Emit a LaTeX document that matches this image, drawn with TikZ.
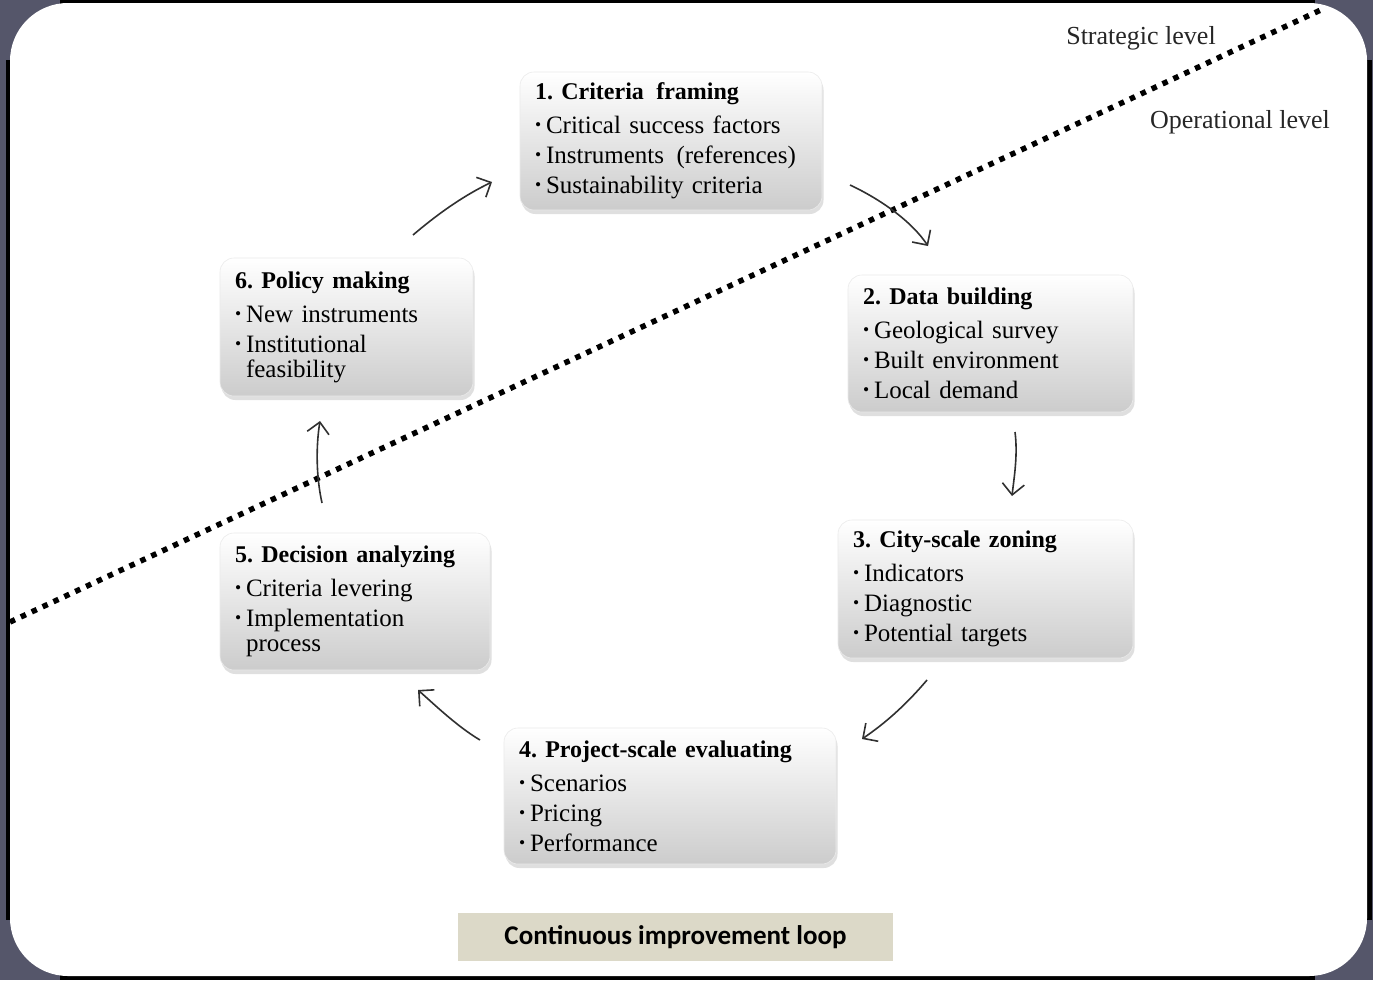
\documentclass[tikz,border=0pt]{standalone}
\usepackage{fontspec}
\setmainfont{Liberation Serif}
\newfontfamily\calib{Carlito}
\usetikzlibrary{arrows.meta,shadows,calc}
\definecolor{bgslate}{HTML}{55566A}
\definecolor{beigebox}{HTML}{DCD9C8}
\definecolor{arrowgray}{HTML}{303030}
\newcommand{\bl}[1]{\makebox[11pt][l]{\raisebox{3pt}{\scalebox{0.7}{\textbullet}}}#1}
\newcommand{\hang}[1]{\hspace*{11pt}#1}
\frenchspacing
\begin{document}
\begin{tikzpicture}[x=1pt,y=-1pt,
  stepbox/.style={rectangle, rounded corners=14pt, draw=white!92!black, line width=0.6pt,
    top color=white, bottom color=black!20, align=left, inner xsep=15pt, inner ysep=0pt,
    drop shadow={shadow xshift=1.5pt, shadow yshift=-4pt, opacity=0.25},
    font=\fontsize{25}{30}\selectfont},
  flow/.style={draw=arrowgray, line width=1.6pt, -{Straight Barb[length=11pt,width=22pt,line width=1.6pt]}},
  lvl/.style={font=\fontsize{26}{30}\selectfont, text=black!85}
]
\useasboundingbox (0,0) rectangle (1373,980);
% frame
\fill[bgslate] (0,0) rectangle (1373,980);
\fill[black] (60,0) rectangle (1315,4);
\fill[black] (60,975) rectangle (1315,980);
\fill[black] (6,60) rectangle (11,920);
\fill[black] (1365,60) rectangle (1372,920);
\fill[white, rounded corners=58pt] (10,3) rectangle (1367,976);

% dotted divider
\coordinate (d1) at (10,622);
\coordinate (d2) at (1325,8);
\draw[line width=5.5pt, dash pattern=on 5.5pt off 6.5pt] (d1) -- (d2);

% level labels
\node[lvl] (strat) at (1141,38) {Strategic level};
\node[lvl] (oper) at (1240,122) {Operational level};

% boxes
\node[stepbox, text width=272pt, minimum height=138pt] (b1) at (671,141)
 {\textbf{\fontsize{24}{30}\selectfont 1. Criteria\, framing}\\[4pt]\bl{Critical success factors}\\\bl{Instruments\, (references)}\\\bl{Sustainability criteria}};
\node[stepbox, text width=255pt, minimum height=137pt] (b2) at (990.5,343.5)
 {\textbf{\fontsize{24}{30}\selectfont 2. Data building}\\[4pt]\bl{Geological survey}\\\bl{Built environment}\\\bl{Local demand}};
\node[stepbox, text width=265pt, minimum height=138pt] (b3) at (985.5,589)
 {\textbf{\fontsize{24}{30}\selectfont 3. City-scale zoning}\\[4pt]\bl{Indicators}\\\bl{Diagnostic}\\\bl{Potential targets}};
\node[stepbox, text width=302pt, minimum height=136pt] (b4) at (670,796)
 {\textbf{\fontsize{24}{30}\selectfont 4. Project-scale evaluating}\\[4pt]\bl{Scenarios}\\\bl{Pricing}\\\bl{Performance}};
\node[stepbox, text width=240pt, minimum height=137pt] (b5) at (355,601.5)
 {\textbf{\fontsize{24}{30}\selectfont 5. Decision analyzing}\\[4pt]\bl{Criteria levering}\\\bl{Implementation}\\[-5pt]\hang{process}};
\node[stepbox, text width=223pt, minimum height=138pt] (b6) at (346.5,327)
 {\textbf{\fontsize{24}{30}\selectfont 6. Policy making}\\[4pt]\bl{New instruments}\\\bl{Institutional}\\[-5pt]\hang{feasibility}};

% arrow endpoints
\coordinate (a6s) at (413,235);  \coordinate (a1e) at (492,182);
\coordinate (a1s) at (850,185);  \coordinate (a2e) at (928,246);
\coordinate (a2s) at (1015,432); \coordinate (a3e) at (1012,496);
\coordinate (a3s) at (927,680);  \coordinate (a4e) at (862,739);
\coordinate (a4s) at (480,740);  \coordinate (a5e) at (418,690);
\coordinate (a5s) at (322,503);  \coordinate (a6e) at (320,421);

\draw[flow] (a6s) .. controls (440,212) and (465,195) .. (a1e);
\draw[flow] (a1s) .. controls (882,200) and (912,222) .. (a2e);
\draw[flow] (a2s) .. controls (1018,455) and (1014,478) .. (a3e);
\draw[flow] (a3s) .. controls (905,706) and (884,724) .. (a4e);
\draw[flow] (a4s) .. controls (458,727) and (436,706) .. (a5e);
\draw[flow] (a5s) .. controls (316,476) and (316,446) .. (a6e);

% bottom label
\node[fill=beigebox, minimum width=435pt, minimum height=48pt, inner sep=0pt,
  font=\calib\bfseries\fontsize{27}{30}\selectfont] (loop) at (675.5,937) {Continuous improvement loop};
\end{tikzpicture}
\end{document}
